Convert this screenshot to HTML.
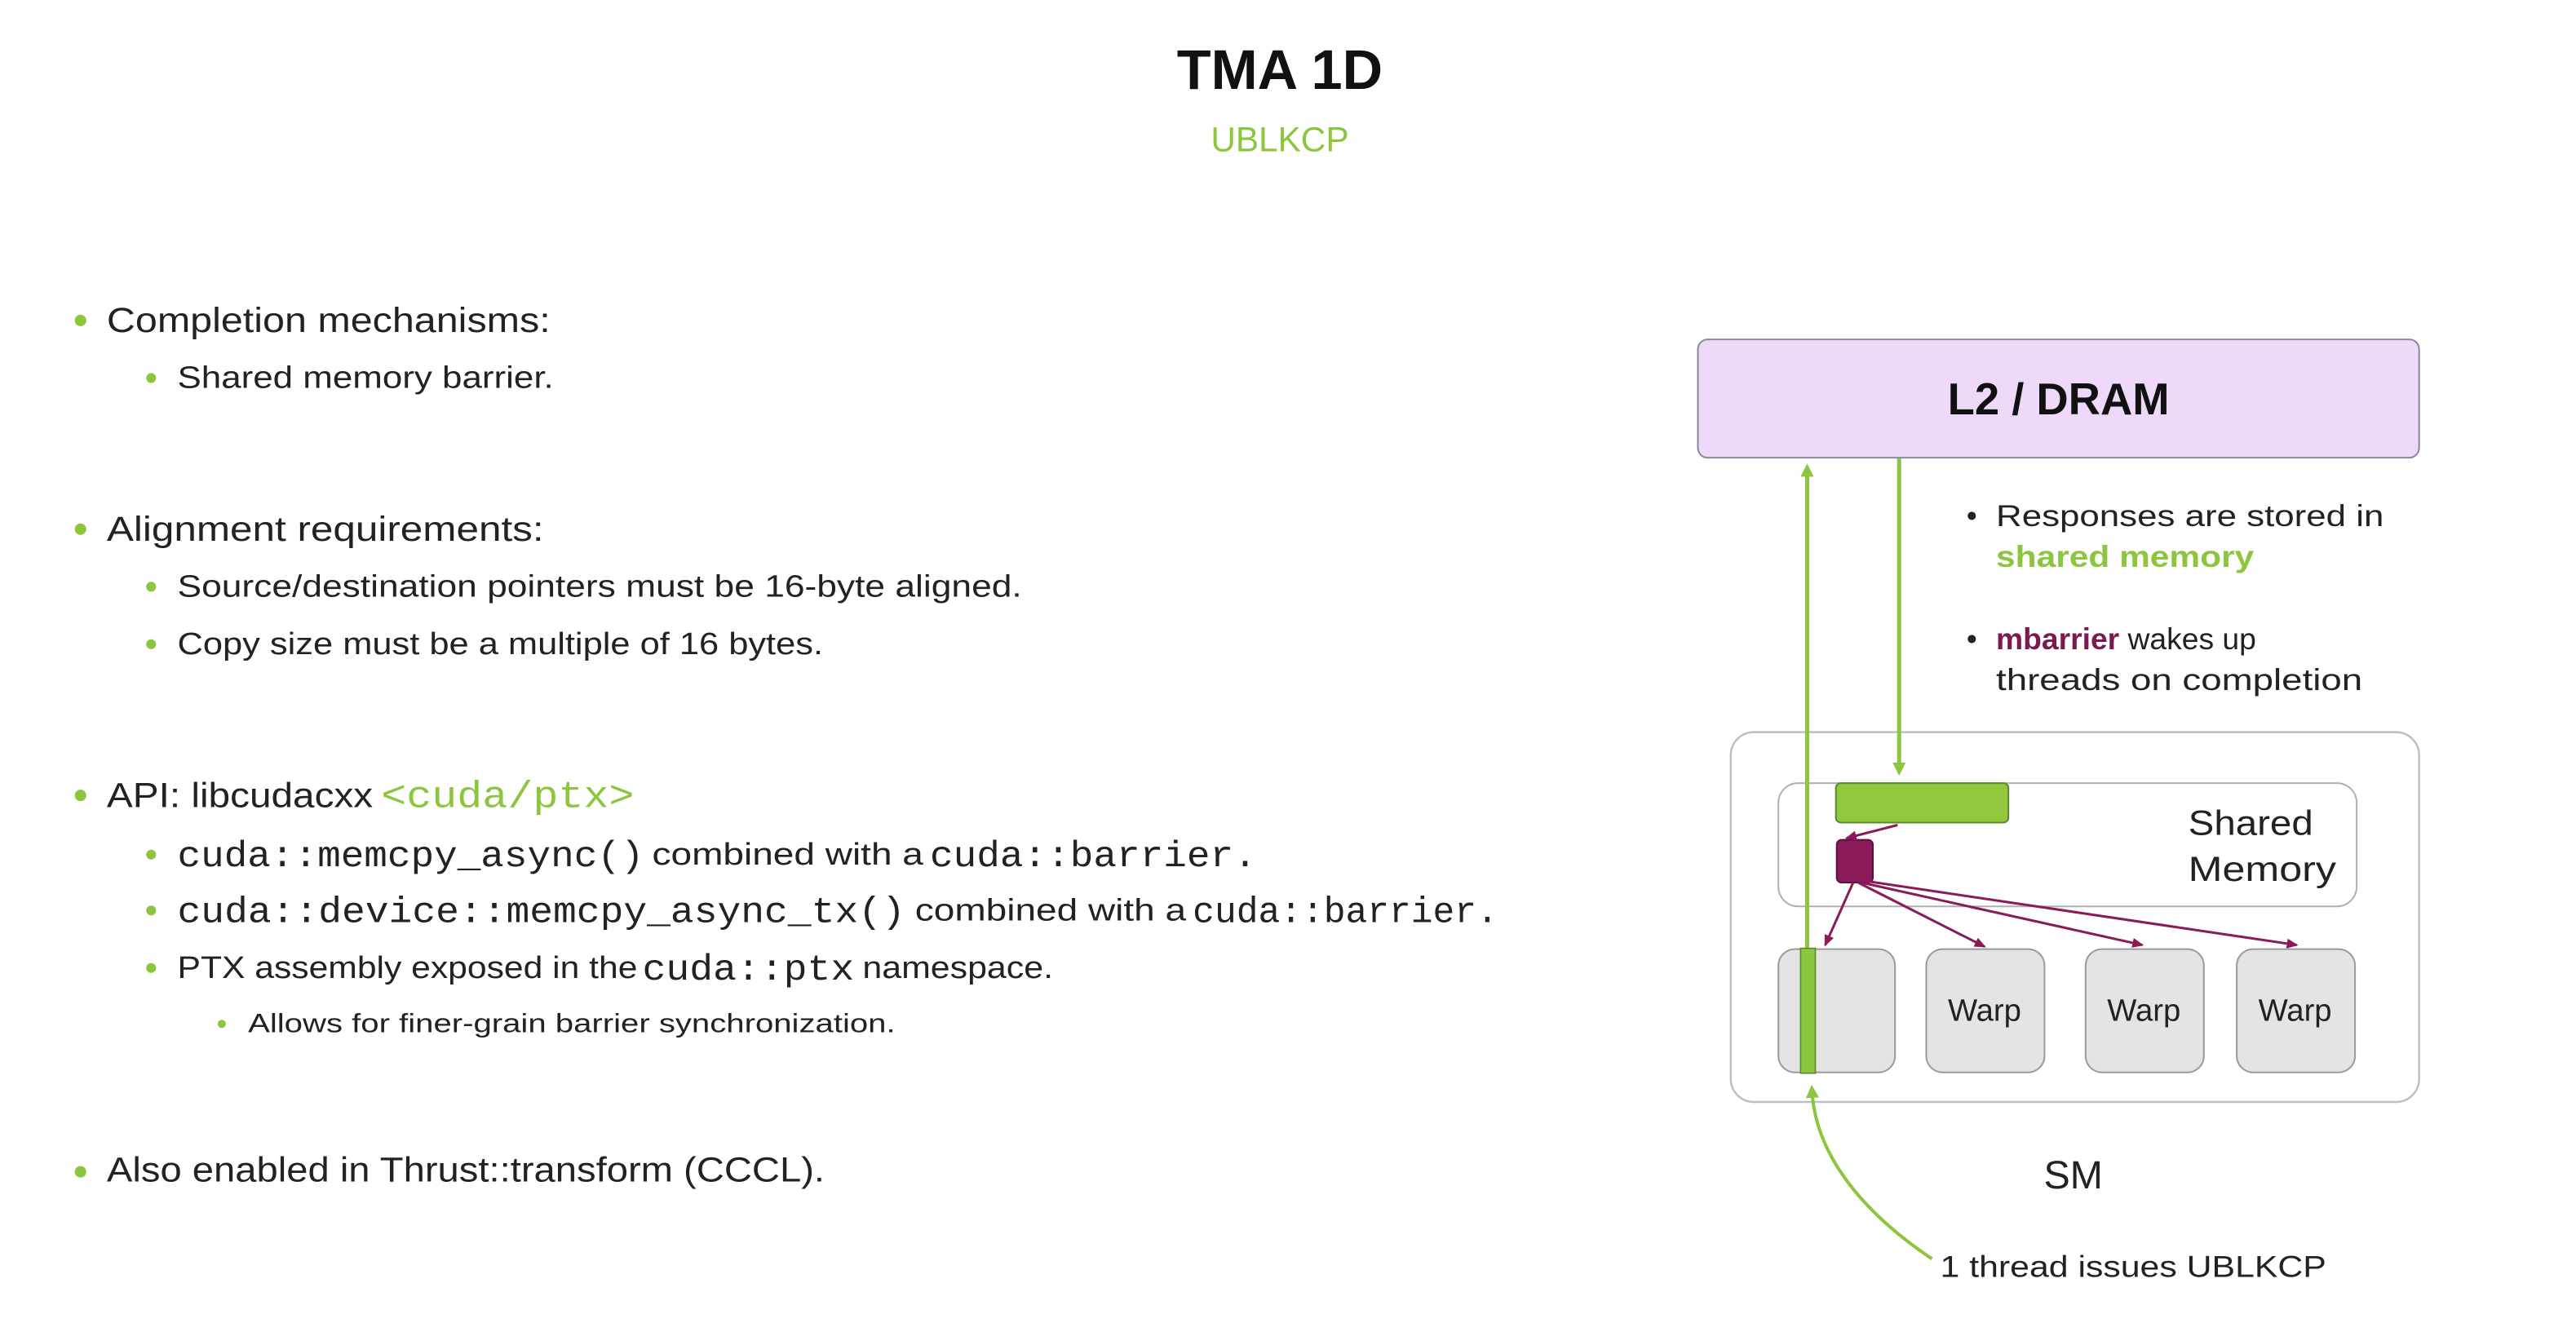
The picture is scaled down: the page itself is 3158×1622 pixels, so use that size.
<!DOCTYPE html>
<html><head><meta charset="utf-8">
<style>
html,body{margin:0;padding:0;background:#fff;}
svg{display:block;}
.s{font-family:"Liberation Sans",sans-serif;}
.m{font-family:"Liberation Mono",monospace;}
</style></head>
<body>
<svg width="3158" height="1622" viewBox="0 0 1568 805" preserveAspectRatio="none" xmlns="http://www.w3.org/2000/svg">
<defs>
<marker id="ga" markerWidth="8" markerHeight="8" refX="4" refY="4" orient="auto" markerUnits="userSpaceOnUse"><path d="M0,0 L8,4 L0,8 z" fill="#8cc63f"/></marker>
<marker id="pa" markerWidth="7" markerHeight="6" refX="6" refY="3" orient="auto" markerUnits="userSpaceOnUse"><path d="M0,0 L7,3 L0,6 z" fill="#8b1a5a"/></marker>
</defs>
<rect width="1568" height="805" fill="#fff"/>
<text x="779" y="54" text-anchor="middle" class="s" font-size="34" font-weight="bold" fill="#111">TMA 1D</text>
<text x="779" y="92" text-anchor="middle" class="s" font-size="21" fill="#8cc63f">UBLKCP</text>

<g class="s" fill="#222">
<circle cx="49" cy="195" r="3.5" fill="#8cc63f"/>
<text x="65" y="202" font-size="21" textLength="270" lengthAdjust="spacingAndGlyphs">Completion mechanisms:</text>
<circle cx="92" cy="230" r="3" fill="#8cc63f"/>
<text x="108" y="236" font-size="19" textLength="229" lengthAdjust="spacingAndGlyphs">Shared memory barrier.</text>

<circle cx="49" cy="322" r="3.5" fill="#8cc63f"/>
<text x="65" y="329" font-size="21" textLength="266" lengthAdjust="spacingAndGlyphs">Alignment requirements:</text>
<circle cx="92" cy="357" r="3" fill="#8cc63f"/>
<text x="108" y="363" font-size="19" textLength="514" lengthAdjust="spacingAndGlyphs">Source/destination pointers must be 16-byte aligned.</text>
<circle cx="92" cy="392" r="3" fill="#8cc63f"/>
<text x="108" y="398" font-size="19" textLength="393" lengthAdjust="spacingAndGlyphs">Copy size must be a multiple of 16 bytes.</text>

<circle cx="49" cy="484" r="3.5" fill="#8cc63f"/>
<text x="65" y="491" font-size="21" textLength="162" lengthAdjust="spacingAndGlyphs">API: libcudacxx</text>
<text x="232" y="491" font-size="23" class="m" fill="#8cc63f" textLength="154" lengthAdjust="spacingAndGlyphs">&lt;cuda/ptx&gt;</text>

<circle cx="92" cy="520" r="3" fill="#8cc63f"/>
<text x="108" y="527" font-size="22" class="m" textLength="284" lengthAdjust="spacingAndGlyphs">cuda::memcpy_async()</text>
<text x="397" y="526" font-size="19" textLength="165" lengthAdjust="spacingAndGlyphs">combined with a</text>
<text x="566" y="527" font-size="22" class="m" textLength="199" lengthAdjust="spacingAndGlyphs">cuda::barrier.</text>

<circle cx="92" cy="554" r="3" fill="#8cc63f"/>
<text x="108" y="561" font-size="22" class="m" textLength="443" lengthAdjust="spacingAndGlyphs">cuda::device::memcpy_async_tx()</text>
<text x="557" y="560" font-size="19" textLength="165" lengthAdjust="spacingAndGlyphs">combined with a</text>
<text x="726" y="561" font-size="22" class="m" textLength="186" lengthAdjust="spacingAndGlyphs">cuda::barrier.</text>

<circle cx="92" cy="589" r="3" fill="#8cc63f"/>
<text x="108" y="595" font-size="19" textLength="280" lengthAdjust="spacingAndGlyphs">PTX assembly exposed in the</text>
<text x="391" y="596" font-size="22" class="m" textLength="129" lengthAdjust="spacingAndGlyphs">cuda::ptx</text>
<text x="525" y="595" font-size="19" textLength="116" lengthAdjust="spacingAndGlyphs">namespace.</text>

<circle cx="135" cy="623" r="2.5" fill="#8cc63f"/>
<text x="151" y="628" font-size="16" textLength="394" lengthAdjust="spacingAndGlyphs">Allows for finer-grain barrier synchronization.</text>

<circle cx="49" cy="713" r="3.5" fill="#8cc63f"/>
<text x="65" y="719" font-size="21" textLength="437" lengthAdjust="spacingAndGlyphs">Also enabled in Thrust::transform (CCCL).</text>
</g>

<!-- Diagram -->
<rect x="1033.5" y="206.5" width="439" height="72" rx="6" fill="#efd9fb" stroke="#8a8a9a" stroke-width="1"/>
<text x="1253" y="252" text-anchor="middle" class="s" font-size="27" font-weight="bold" fill="#111">L2 / DRAM</text>

<g class="s" font-size="18.5" fill="#222">
<text x="1197" y="320">•</text>
<text x="1215" y="320" textLength="236" lengthAdjust="spacingAndGlyphs">Responses are stored in</text>
<text x="1215" y="345" fill="#8cc63f" font-weight="bold" textLength="157" lengthAdjust="spacingAndGlyphs">shared memory</text>
<text x="1197" y="395">•</text>
<text x="1215" y="395"><tspan fill="#7a1a50" font-weight="bold">mbarrier</tspan> wakes up</text>
<text x="1215" y="420" textLength="223" lengthAdjust="spacingAndGlyphs">threads on completion</text>
</g>

<rect x="1053.5" y="445.5" width="419" height="225" rx="14" fill="#fff" stroke="#b8c0c0" stroke-width="1.2"/>
<rect x="1082.5" y="476.5" width="352" height="75" rx="12" fill="#fff" stroke="#b0b0b0" stroke-width="1"/>
<text x="1332" y="508" class="s" font-size="21" fill="#222" textLength="76" lengthAdjust="spacingAndGlyphs">Shared</text>
<text x="1332" y="536" class="s" font-size="21" fill="#222" textLength="90" lengthAdjust="spacingAndGlyphs">Memory</text>

<!-- green lines -->
<line x1="1100" y1="652" x2="1100" y2="286" stroke="#8cc63f" stroke-width="2.5" marker-end="url(#ga)"/>
<line x1="1156" y1="279" x2="1156" y2="468" stroke="#8cc63f" stroke-width="2.5" marker-end="url(#ga)"/>

<rect x="1117.5" y="476.5" width="105" height="24" rx="3" fill="#92c83e" stroke="#5a8a2a" stroke-width="1"/>
<rect x="1118" y="511" width="22" height="26" rx="3" fill="#8b1a5a" stroke="#5a1040" stroke-width="1"/>

<!-- purple arrows -->
<g stroke="#8b1a5a" stroke-width="1.5" fill="none">
<line x1="1155" y1="502" x2="1124" y2="510" marker-end="url(#pa)"/>
<line x1="1128" y1="537" x2="1111" y2="575" marker-end="url(#pa)"/>
<line x1="1131" y1="537" x2="1208" y2="576" marker-end="url(#pa)"/>
<line x1="1133" y1="537" x2="1304" y2="575" marker-end="url(#pa)"/>
<line x1="1135" y1="536" x2="1398" y2="575" marker-end="url(#pa)"/>
</g>

<!-- warps -->
<g fill="#e4e4e4" stroke="#9a9a9a" stroke-width="1">
<rect x="1082.5" y="577.5" width="71" height="75" rx="10"/>
<rect x="1172.5" y="577.5" width="72" height="75" rx="10"/>
<rect x="1269.5" y="577.5" width="72" height="75" rx="10"/>
<rect x="1361.5" y="577.5" width="72" height="75" rx="10"/>
</g>
<rect x="1096" y="577" width="9" height="76" fill="#8cc63f" stroke="#5a8a2a" stroke-width="0.8"/>
<g class="s" font-size="19" fill="#222" text-anchor="middle">
<text x="1208" y="621">Warp</text>
<text x="1305" y="621">Warp</text>
<text x="1397" y="621">Warp</text>
</g>

<text x="1262" y="723" text-anchor="middle" class="s" font-size="24" fill="#222">SM</text>

<path d="M1176,766 C1130,735 1105,700 1103,664" stroke="#8cc63f" stroke-width="2" fill="none" marker-end="url(#ga)"/>
<text x="1181" y="777" class="s" font-size="18.5" fill="#222" textLength="235" lengthAdjust="spacingAndGlyphs">1 thread issues UBLKCP</text>
</svg>
</body></html>
